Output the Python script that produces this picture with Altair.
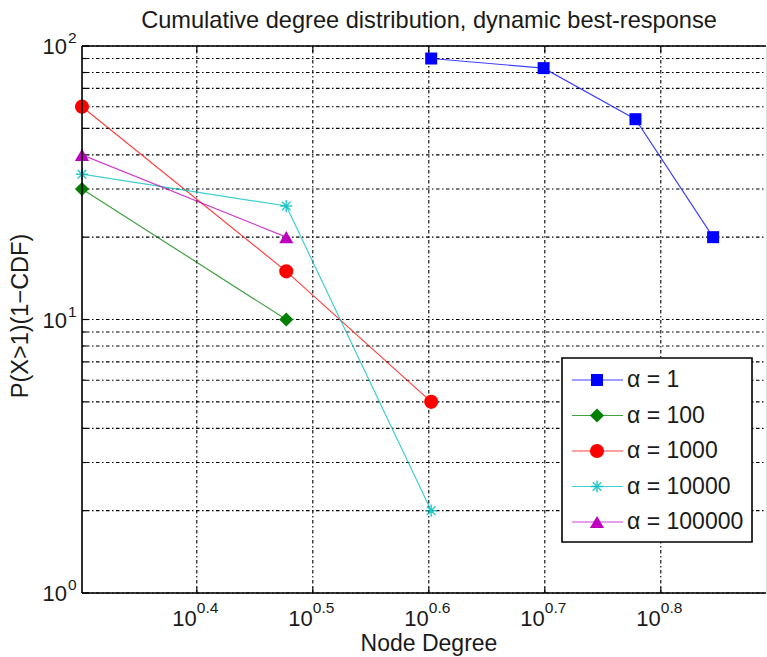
import math
import altair as alt
import pandas as pd

# ---------------- data ----------------
a1_deg = [4, 5, 6, 7]
a1_p = [90, 83, 54, 20]
a100_deg = [2, 3]
a100_p = [30, 10]
a1000_deg = [2, 3, 4]
a1000_p = [60, 15, 5]
a10000_deg = [2, 3, 4]
a10000_p = [34, 26, 2]
a100000_deg = [2, 3]
a100000_p = [40, 20]

series_labels = ["α = 1", "α = 100", "α = 1000", "α = 10000", "α = 100000"]
series_deg = [a1_deg, a100_deg, a1000_deg, a10000_deg, a100000_deg]
series_p = [a1_p, a100_p, a1000_p, a10000_p, a100000_p]
series_colors = ["#0000FF", "#008000", "#FF0000", "#00BFBF", "#BF00BF"]

x_tick_exps = ["0.4", "0.5", "0.6", "0.7", "0.8"]
y_tick_exps = ["0", "1", "2"]
y_minor = [2, 3, 4, 5, 6, 7, 8, 9, 20, 30, 40, 50, 60, 70, 80, 90]

title_text = "Cumulative degree distribution, dynamic best-response"
x_title = "Node Degree"
y_title = "P(X>1)(1\u2212CDF)"

# ---------------- layout ----------------
W, H = 684, 547
FONT = "Liberation Sans"
XMAX = 10 ** (0.30103 + W / 1160.0)
STAR = "M-1,0L1,0M0,-1L0,1M-0.7,-0.7L0.7,0.7M-0.7,0.7L0.7,-0.7"
shapes = ["square", "diamond", "circle", STAR, "triangle-up"]
sizes = [144, 200, 200, 150, 200]
GRID_DASH = [1.5, 2.5, 3.5, 2.5]

xs = alt.Scale(type="log", domain=[2, XMAX], nice=False, zero=False)
ys = alt.Scale(type="log", domain=[1, 100], nice=False, zero=False)

def X(field="deg"):
    return alt.X(f"{field}:Q", scale=xs, axis=None)

def Y(field="p"):
    return alt.Y(f"{field}:Q", scale=ys, axis=None)

x_major = [10 ** float(e) for e in x_tick_exps]
y_major = [10 ** int(e) for e in y_tick_exps]

xgrid_df = pd.DataFrame({"deg": x_major, "exp": x_tick_exps})
ymajor_df = pd.DataFrame({"p": y_major, "exp": y_tick_exps})
ygrid_df = pd.DataFrame({"p": y_major + y_minor})
yminor_df = pd.DataFrame({"p": y_minor})

layers = []

# grid
layers.append(alt.Chart(ygrid_df).mark_rule(color="black", strokeWidth=1.1, strokeDash=GRID_DASH).encode(
    y=Y(), x=alt.value(0), x2=alt.value(W)))
layers.append(alt.Chart(xgrid_df).mark_rule(color="black", strokeWidth=1.1, strokeDash=GRID_DASH).encode(
    x=X(), y=alt.value(0), y2=alt.value(H)))

# inward ticks
layers.append(alt.Chart(xgrid_df).mark_rule(color="black", strokeWidth=1.2).encode(
    x=X(), y=alt.value(H), y2=alt.value(H - 6)))
layers.append(alt.Chart(xgrid_df).mark_rule(color="black", strokeWidth=1.2).encode(
    x=X(), y=alt.value(0), y2=alt.value(6)))
layers.append(alt.Chart(ymajor_df).mark_rule(color="black", strokeWidth=1.2).encode(
    y=Y(), x=alt.value(0), x2=alt.value(7)))
layers.append(alt.Chart(yminor_df).mark_rule(color="black", strokeWidth=1.2).encode(
    y=Y(), x=alt.value(0), x2=alt.value(4)))

# series
for lab, dg, pv, col, shp, sz in zip(series_labels, series_deg, series_p, series_colors, shapes, sizes):
    df = pd.DataFrame({"deg": dg, "p": pv, "series": lab})
    layers.append(alt.Chart(df).mark_line(color=col, strokeWidth=1.2, opacity=0.75).encode(x=X(), y=Y()))
    if shp == STAR:
        layers.append(alt.Chart(df).mark_point(shape=shp, filled=False, color=col, strokeWidth=1.5,
                                               size=sz, opacity=0.8).encode(x=X(), y=Y()))
    else:
        layers.append(alt.Chart(df).mark_point(shape=shp, filled=True, color=col, size=sz,
                                               opacity=1).encode(x=X(), y=Y()))

# axis lines (left, bottom, top)
frame_df = pd.DataFrame({"k": [0]})
layers.append(alt.Chart(frame_df).mark_rule(color="black", strokeWidth=1.6).encode(
    x=alt.value(0), y=alt.value(0), y2=alt.value(H)))
layers.append(alt.Chart(frame_df).mark_rule(color="black", strokeWidth=1.6).encode(
    x=alt.value(0), x2=alt.value(W), y=alt.value(H)))
layers.append(alt.Chart(frame_df).mark_rule(color="black", strokeWidth=1.6).encode(
    x=alt.value(0), x2=alt.value(W), y=alt.value(0)))

# tick labels
TXT = "#1a1a1a"
layers.append(alt.Chart(xgrid_df).mark_text(text="10", align="right", baseline="alphabetic", font=FONT,
                                            fontSize=22, color=TXT, dx=0).encode(
    x=X(), y=alt.value(H + 33)))
layers.append(alt.Chart(xgrid_df).mark_text(align="left", baseline="alphabetic", font=FONT,
                                            fontSize=15.5, color=TXT, dx=0).encode(
    x=X(), y=alt.value(H + 20), text="exp:N"))
layers.append(alt.Chart(ymajor_df).mark_text(text="10", align="right", baseline="alphabetic", font=FONT,
                                             fontSize=22, color=TXT, dy=8).encode(
    y=Y(), x=alt.value(-15)))
layers.append(alt.Chart(ymajor_df).mark_text(align="left", baseline="alphabetic", font=FONT,
                                             fontSize=15.5, color=TXT, dy=-3).encode(
    y=Y(), x=alt.value(-14), text="exp:N"))

# titles
title_df = pd.DataFrame({"t": [title_text]})
layers.append(alt.Chart(title_df).mark_text(align="center", baseline="alphabetic", font=FONT,
                                            fontSize=23.6, color=TXT).encode(
    x=alt.value(347), y=alt.value(-18), text="t:N"))
xt_df = pd.DataFrame({"t": [x_title]})
layers.append(alt.Chart(xt_df).mark_text(align="center", baseline="alphabetic", font=FONT,
                                         fontSize=23, color=TXT).encode(
    x=alt.value(347), y=alt.value(H + 58), text="t:N"))
yt_df = pd.DataFrame({"t": [y_title]})
layers.append(alt.Chart(yt_df).mark_text(align="center", baseline="middle", font=FONT, angle=270,
                                         fontSize=23.5, color=TXT).encode(
    x=alt.value(-61), y=alt.value(270), text="t:N"))

# legend
LX0, LX1, LY0, LY1 = 480, 670, 312, 496
layers.append(alt.Chart(frame_df).mark_rect(fill="white", stroke="black", strokeWidth=1.6).encode(
    x=alt.value(LX0), x2=alt.value(LX1), y=alt.value(LY0), y2=alt.value(LY1)))
for i, (lab, col, shp, sz) in enumerate(zip(series_labels, series_colors, shapes, sizes)):
    ry = 334 + 35.5 * i
    ldf = pd.DataFrame({"label": [lab]})
    layers.append(alt.Chart(ldf).mark_rule(color=col, strokeWidth=1.2, opacity=0.75).encode(
        x=alt.value(490), x2=alt.value(541), y=alt.value(ry)))
    if shp == STAR:
        layers.append(alt.Chart(ldf).mark_point(shape=shp, filled=False, color=col, strokeWidth=1.5,
                                                size=sz, opacity=0.8).encode(x=alt.value(515), y=alt.value(ry)))
    else:
        layers.append(alt.Chart(ldf).mark_point(shape=shp, filled=True, color=col, size=sz,
                                                opacity=1).encode(x=alt.value(515), y=alt.value(ry)))
    layers.append(alt.Chart(ldf).mark_text(align="left", baseline="middle", font=FONT, fontSize=23,
                                           color=TXT).encode(x=alt.value(545), y=alt.value(ry), text="label:N"))

chart = alt.layer(*layers).properties(
    width=W, height=H,
    autosize=alt.AutoSizeParams(type="none"),
    padding={"left": 82, "top": 46, "right": 1, "bottom": 64},
).configure_view(stroke=None).configure(background="white")

chart.save("out.html", embed_options={"renderer": "svg", "actions": False})
